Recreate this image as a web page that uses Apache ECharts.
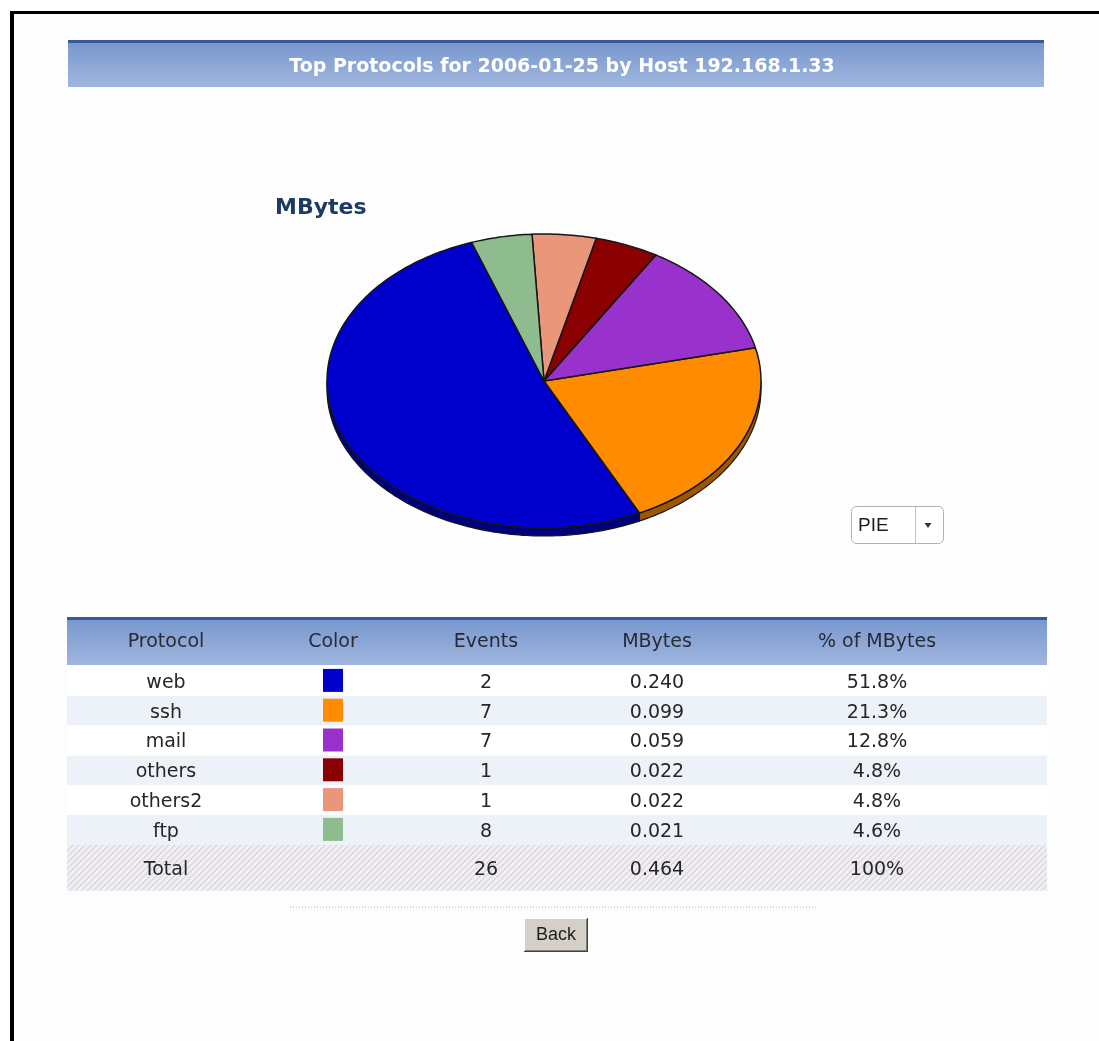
<!DOCTYPE html>
<html><head><meta charset="utf-8">
<script src="https://cdn.jsdelivr.net/npm/echarts@6/dist/echarts.min.js"></script>
<style>html,body{margin:0;padding:0;background:#fff}#c{width:1099px;height:1041px}</style>
</head><body><div id="c"></div><script>
// ---- data ----
const protocols = ['web', 'ssh', 'mail', 'others', 'others2', 'ftp'];
const sliceColors = ['#0000CD', '#FF8C00', '#9932CC', '#8B0000', '#E9967A', '#8FBC8F'];
const events = [2, 7, 7, 1, 1, 8];
const mbytes = [0.240, 0.099, 0.059, 0.022, 0.022, 0.021];
const mbyteLabels = ['0.240', '0.099', '0.059', '0.022', '0.022', '0.021'];
const pctLabels = ['51.8%', '21.3%', '12.8%', '4.8%', '4.8%', '4.6%'];
const columnHeaders = ['Protocol', 'Color', 'Events', 'MBytes', '% of MBytes'];
const totalRow = ['Total', '', '26', '0.464', '100%'];
const pageTitle = 'Top Protocols for 2006-01-25 by Host 192.168.1.33';
const chartTitle = 'MBytes';
const chartTypeLabel = 'PIE';
const buttonLabel = 'Back';

// ---- layout ----
const CX = 544, CY = 381, RX = 217, RY = 147, DEPTH = 8, START = 340.5;
const colX = [166, 333, 486, 657, 877];
const TBL_L = 67, TBL_R = 1047, ROW_TOP = 666, ROW_H = 29.8;

const chart = echarts.init(document.getElementById('c'));
const total = mbytes.reduce((a, b) => a + b, 0);

function darker(hex, f) {
  const n = parseInt(hex.slice(1), 16);
  const r = Math.round(((n >> 16) & 255) * f), gg = Math.round(((n >> 8) & 255) * f), b = Math.round((n & 255) * f);
  return 'rgb(' + r + ',' + gg + ',' + b + ')';
}

function renderSlice(params, api) {
  const i = params.dataIndex;
  let before = 0;
  for (let k = 0; k < i; k++) before += mbytes[k];
  const v = api.value(0);
  const a0 = START - before / total * 360;
  const a1 = a0 - v / total * 360;
  const col = sliceColors[i];
  const pt = (th, dy) => [CX + RX * Math.sin(th * Math.PI / 180), CY - RY * Math.cos(th * Math.PI / 180) + (dy || 0)];
  const children = [];
  let lo = a1, hi = a0;
  while (lo < 0) { lo += 360; hi += 360; }
  while (lo >= 360) { lo -= 360; hi -= 360; }
  [[90, 270], [450, 630]].forEach(([b0, b1]) => {
    const l = Math.max(lo, b0), h = Math.min(hi, b1);
    if (h > l) {
      const pts = [];
      const n = Math.max(2, Math.ceil(h - l));
      for (let s = 0; s <= n; s++) pts.push(pt(l + (h - l) * s / n, 0));
      for (let s = n; s >= 0; s--) pts.push(pt(l + (h - l) * s / n, DEPTH));
      children.push({ type: 'polygon', z2: 1, shape: { points: pts },
        style: { fill: darker(col, 0.62), stroke: '#151515', lineWidth: 1.2 } });
    }
  });
  const top = [[CX, CY]];
  const n = Math.max(4, Math.ceil(a0 - a1));
  for (let s = 0; s <= n; s++) top.push(pt(a0 - (a0 - a1) * s / n, 0));
  children.push({ type: 'polygon', z2: 2, shape: { points: top },
    style: { fill: col, stroke: '#151515', lineWidth: 1.5, lineJoin: 'round' } });
  return { type: 'group', children };
}

function txt(x, y, text, o) {
  o = o || {};
  return {
    type: 'text', x: x, y: y, scaleX: o.sx || 1, z: 20,
    style: {
      text: text, x: 0, y: 0,
      align: o.align || 'center', verticalAlign: 'middle',
      textAlign: o.align || 'center', textVerticalAlign: 'middle',
      fontFamily: o.family || 'DejaVu Sans', fontSize: o.size || 19,
      fontWeight: o.weight || 'normal', fill: o.color || '#262626'
    }
  };
}

// hatch pattern for total row
const hc = document.createElement('canvas');
hc.width = 6; hc.height = 6;
const hx = hc.getContext('2d');
hx.fillStyle = '#f1eff3'; hx.fillRect(0, 0, 6, 6);
hx.strokeStyle = '#d7d1d9'; hx.lineWidth = 1.2;
hx.beginPath(); hx.moveTo(-1, 7); hx.lineTo(7, -1); hx.stroke();
hx.beginPath(); hx.moveTo(-1, 1); hx.lineTo(1, -1); hx.stroke();
hx.beginPath(); hx.moveTo(5, 7); hx.lineTo(7, 5); hx.stroke();

const barGrad = () => new echarts.graphic.LinearGradient(0, 0, 0, 1, [
  { offset: 0, color: '#7696cd' }, { offset: 1, color: '#a0b6de' }]);

const g = [];
// page frame
g.push({ type: 'rect', z: 0, shape: { x: 14, y: 14, width: 1085, height: 1027 }, style: { fill: '#fdfdfd' } });
g.push({ type: 'rect', z: 1, shape: { x: 10, y: 11, width: 1089, height: 3 }, style: { fill: '#000' } });
g.push({ type: 'rect', z: 1, shape: { x: 10, y: 11, width: 4, height: 1030 }, style: { fill: '#000' } });
// title bar
g.push({ type: 'rect', z: 2, shape: { x: 68, y: 40, width: 976, height: 47 }, style: { fill: barGrad() } });
g.push({ type: 'rect', z: 3, shape: { x: 68, y: 40, width: 976, height: 3 }, style: { fill: '#36589c' } });
g.push(txt(562, 67, pageTitle, { size: 20, weight: 'bold', color: '#ffffff', sx: 0.95 }));

// table header
g.push({ type: 'rect', z: 2, shape: { x: TBL_L, y: 617, width: TBL_R - TBL_L, height: 48 }, style: { fill: barGrad() } });
g.push({ type: 'rect', z: 3, shape: { x: TBL_L, y: 617, width: TBL_R - TBL_L, height: 3 }, style: { fill: '#36589c' } });
columnHeaders.forEach((h, c) => g.push(txt(colX[c], 642, h, { color: '#2a2a36' })));

// rows
protocols.forEach((p, r) => {
  const y0 = ROW_TOP + r * ROW_H;
  const yc = y0 + ROW_H / 2;
  g.push({ type: 'rect', z: 2, shape: { x: TBL_L, y: y0, width: TBL_R - TBL_L, height: ROW_H },
    style: { fill: r % 2 ? '#edf1f8' : '#ffffff' } });
  g.push(txt(colX[0], yc + 2, p));
  g.push({ type: 'rect', z: 5, shape: { x: colX[1] - 10, y: yc - 12, width: 20, height: 23 }, style: { fill: sliceColors[r] } });
  g.push(txt(colX[2], yc + 2, String(events[r])));
  g.push(txt(colX[3], yc + 2, mbyteLabels[r]));
  g.push(txt(colX[4], yc + 2, pctLabels[r]));
});
const totTop = ROW_TOP + protocols.length * ROW_H;
g.push({ type: 'rect', z: 2, shape: { x: TBL_L, y: totTop, width: TBL_R - TBL_L, height: 46 },
  style: { fill: { image: hc, repeat: 'repeat' } } });
totalRow.forEach((t, c) => { if (t) g.push(txt(colX[c], totTop + 25, t)); });

// dotted separator
g.push({ type: 'line', z: 3, shape: { x1: 290, y1: 907, x2: 818, y2: 907 },
  style: { stroke: '#d39ad3', lineWidth: 1, lineDash: [1, 2] } });

// Back button
g.push({ type: 'rect', z: 3, shape: { x: 524, y: 918, width: 64, height: 34 }, style: { fill: '#404040' } });
g.push({ type: 'rect', z: 4, shape: { x: 524, y: 918, width: 63, height: 33 }, style: { fill: '#ffffff' } });
g.push({ type: 'rect', z: 5, shape: { x: 525, y: 919, width: 62, height: 32 }, style: { fill: '#808080' } });
g.push({ type: 'rect', z: 6, shape: { x: 525, y: 919, width: 61, height: 31 }, style: { fill: '#d4d0c8' } });
g.push(txt(556, 935, buttonLabel, { family: 'Liberation Sans', size: 18, color: '#1e1e1e' }));

// chart type dropdown
g.push({ type: 'rect', z: 3, shape: { x: 851.5, y: 506.5, width: 92, height: 37, r: 5 },
  style: { fill: '#ffffff', stroke: '#b0b0b0', lineWidth: 1 } });
g.push({ type: 'line', z: 4, shape: { x1: 915.5, y1: 507, x2: 915.5, y2: 543 }, style: { stroke: '#c4c4c4', lineWidth: 1 } });
g.push(txt(858, 526, chartTypeLabel, { family: 'Liberation Sans', size: 19, align: 'left', color: '#1e1e1e' }));
g.push({ type: 'polygon', z: 4, shape: { points: [[924.5, 523], [931.5, 523], [928, 528]] }, style: { fill: '#333' } });

chart.setOption({
  animation: false,
  backgroundColor: '#ffffff',
  title: {
    text: chartTitle, left: 275, top: 197, padding: 0,
    textStyle: { fontFamily: 'DejaVu Sans', fontSize: 22, fontWeight: 'bold', color: '#1d3a62' }
  },
  graphic: g,
  series: [{
    type: 'custom',
    coordinateSystem: 'none',
    renderItem: renderSlice,
    z: 10,
    data: mbytes.map((v, i) => ({ name: protocols[i], value: [v] }))
  }]
});
</script></body></html>
